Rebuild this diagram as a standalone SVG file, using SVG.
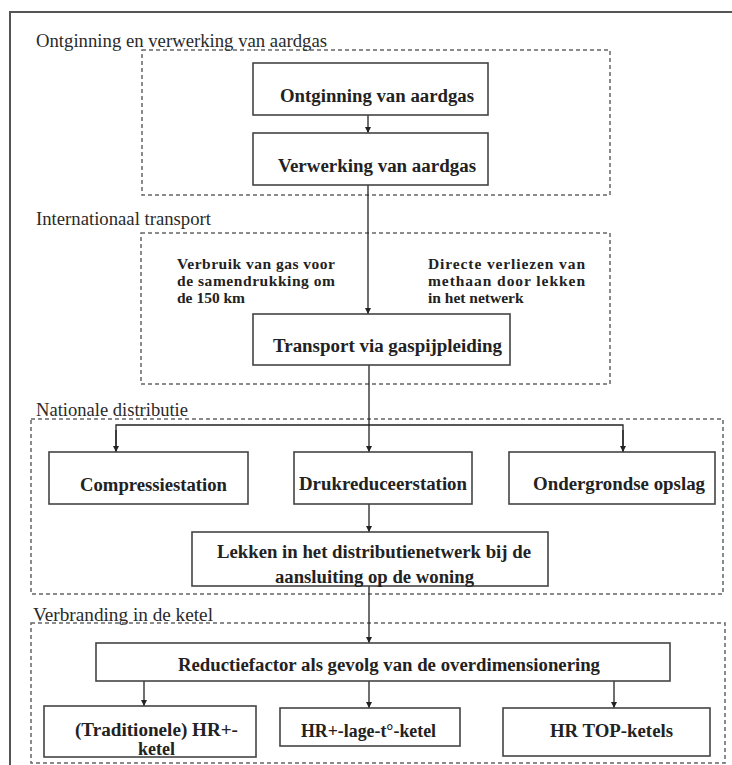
<svg xmlns="http://www.w3.org/2000/svg" width="732" height="765" viewBox="0 0 732 765">
<defs>
<style>
.frame{fill:none;stroke:#555;stroke-width:2}
.grp{fill:none;stroke:#666;stroke-width:1.5;stroke-dasharray:4 3}
.box{fill:#fff;stroke:#444;stroke-width:1.6}
.lbl{font-family:"Liberation Serif","Times New Roman",serif;font-size:18.5px;fill:#2a2a2a}
.bt{font-family:"Liberation Serif","Times New Roman",serif;font-size:18.5px;font-weight:bold;fill:#222}
.nt{font-family:"Liberation Serif","Times New Roman",serif;font-size:15.5px;font-weight:bold;fill:#222}
.cn{fill:none;stroke:#222;stroke-width:1.3}
</style>
<marker id="ah" viewBox="0 0 10 10" refX="10" refY="5" markerWidth="6" markerHeight="6" markerUnits="userSpaceOnUse" orient="auto">
<path d="M0,0 L10,5 L0,10 z" fill="#222"/>
</marker>
</defs>
<rect width="732" height="765" fill="#fff"/>
<path class="frame" d="M10,765 L10,12 L732,12"/>

<g id="group-ontginning">
<rect class="grp" x="142" y="50" width="468" height="145"/>
<text class="lbl" x="36" y="47" textLength="291" lengthAdjust="spacingAndGlyphs">Ontginning en verwerking van aardgas</text>
</g>
<g id="group-transport">
<rect class="grp" x="141" y="233" width="469" height="151"/>
<text class="lbl" x="36" y="225" textLength="175" lengthAdjust="spacingAndGlyphs">Internationaal transport</text>
</g>
<g id="group-distributie">
<rect class="grp" x="31" y="419" width="692" height="175"/>
<text class="lbl" x="36" y="416" textLength="152" lengthAdjust="spacingAndGlyphs">Nationale distributie</text>
</g>
<g id="group-verbranding">
<rect class="grp" x="31" y="623" width="694" height="140"/>
<text class="lbl" x="33" y="621" textLength="180" lengthAdjust="spacingAndGlyphs">Verbranding in de ketel</text>
</g>

<g id="connectors">
<line class="cn" x1="368" y1="115" x2="368" y2="133" marker-end="url(#ah)"/>
<line class="cn" x1="368" y1="185" x2="368" y2="314" marker-end="url(#ah)"/>
<line class="cn" x1="369" y1="365" x2="369" y2="452" marker-end="url(#ah)"/>
<path class="cn" d="M116,452 L116,425 L623,425 L623,452"/>
<line class="cn" x1="116" y1="430" x2="116" y2="452" marker-end="url(#ah)"/>
<line class="cn" x1="623" y1="430" x2="623" y2="452" marker-end="url(#ah)"/>
<line class="cn" x1="369" y1="504" x2="369" y2="532" marker-end="url(#ah)"/>
<line class="cn" x1="369" y1="586" x2="369" y2="643" marker-end="url(#ah)"/>
<line class="cn" x1="144" y1="681" x2="144" y2="706" marker-end="url(#ah)"/>
<line class="cn" x1="369" y1="681" x2="369" y2="708" marker-end="url(#ah)"/>
<line class="cn" x1="614" y1="681" x2="614" y2="708" marker-end="url(#ah)"/>
</g>

<g id="node-ontginning">
<rect class="box" x="253" y="63" width="235" height="52"/>
<text class="bt" x="280" y="102" textLength="194" lengthAdjust="spacingAndGlyphs">Ontginning van aardgas</text>
</g>
<g id="node-verwerking">
<rect class="box" x="253" y="133" width="235" height="52"/>
<text class="bt" x="278" y="172" textLength="198" lengthAdjust="spacingAndGlyphs">Verwerking van aardgas</text>
</g>
<g id="note-verbruik">
<text class="nt" x="177" y="269" textLength="158" lengthAdjust="spacing">Verbruik van gas voor</text>
<text class="nt" x="177" y="286" textLength="158" lengthAdjust="spacing">de samendrukking om</text>
<text class="nt" x="177" y="303">de 150 km</text>
</g>
<g id="note-verliezen">
<text class="nt" x="428" y="269" textLength="157" lengthAdjust="spacing">Directe verliezen van</text>
<text class="nt" x="428" y="286" textLength="157" lengthAdjust="spacing">methaan door lekken</text>
<text class="nt" x="428" y="303">in het netwerk</text>
</g>
<g id="node-transport">
<rect class="box" x="253" y="314" width="257" height="51"/>
<text class="bt" x="273" y="352" textLength="229" lengthAdjust="spacingAndGlyphs">Transport via gaspijpleiding</text>
</g>
<g id="node-compressie">
<rect class="box" x="49" y="452" width="199" height="52"/>
<text class="bt" x="80" y="491" textLength="147" lengthAdjust="spacingAndGlyphs">Compressiestation</text>
</g>
<g id="node-drukreduceer">
<rect class="box" x="294" y="452" width="178" height="52"/>
<text class="bt" x="299" y="490" textLength="168" lengthAdjust="spacingAndGlyphs">Drukreduceerstation</text>
</g>
<g id="node-opslag">
<rect class="box" x="509" y="452" width="206" height="52"/>
<text class="bt" x="533" y="490" textLength="172" lengthAdjust="spacingAndGlyphs">Ondergrondse opslag</text>
</g>
<g id="node-lekken">
<rect class="box" x="192" y="532" width="356" height="54"/>
<text class="bt" x="217" y="558" textLength="314" lengthAdjust="spacingAndGlyphs">Lekken in het distributienetwerk bij de</text>
<text class="bt" x="275" y="583" textLength="199" lengthAdjust="spacingAndGlyphs">aansluiting op de woning</text>
</g>
<g id="node-reductie">
<rect class="box" x="96" y="643" width="574" height="38"/>
<text class="bt" x="178" y="671" textLength="422" lengthAdjust="spacingAndGlyphs">Reductiefactor als gevolg van de overdimensionering</text>
</g>
<g id="node-traditionele">
<rect class="box" x="44" y="706" width="212" height="51"/>
<text class="bt" x="75" y="736" textLength="163" lengthAdjust="spacingAndGlyphs">(Traditionele) HR+-</text>
<text class="bt" x="138" y="755" textLength="37" lengthAdjust="spacingAndGlyphs">ketel</text>
</g>
<g id="node-lage">
<rect class="box" x="280" y="708" width="180" height="38"/>
<text class="bt" x="301" y="737" textLength="135" lengthAdjust="spacingAndGlyphs">HR+-lage-t°-ketel</text>
</g>
<g id="node-top">
<rect class="box" x="503" y="708" width="207" height="48"/>
<text class="bt" x="550" y="737" textLength="123" lengthAdjust="spacingAndGlyphs">HR TOP-ketels</text>
</g>
</svg>
